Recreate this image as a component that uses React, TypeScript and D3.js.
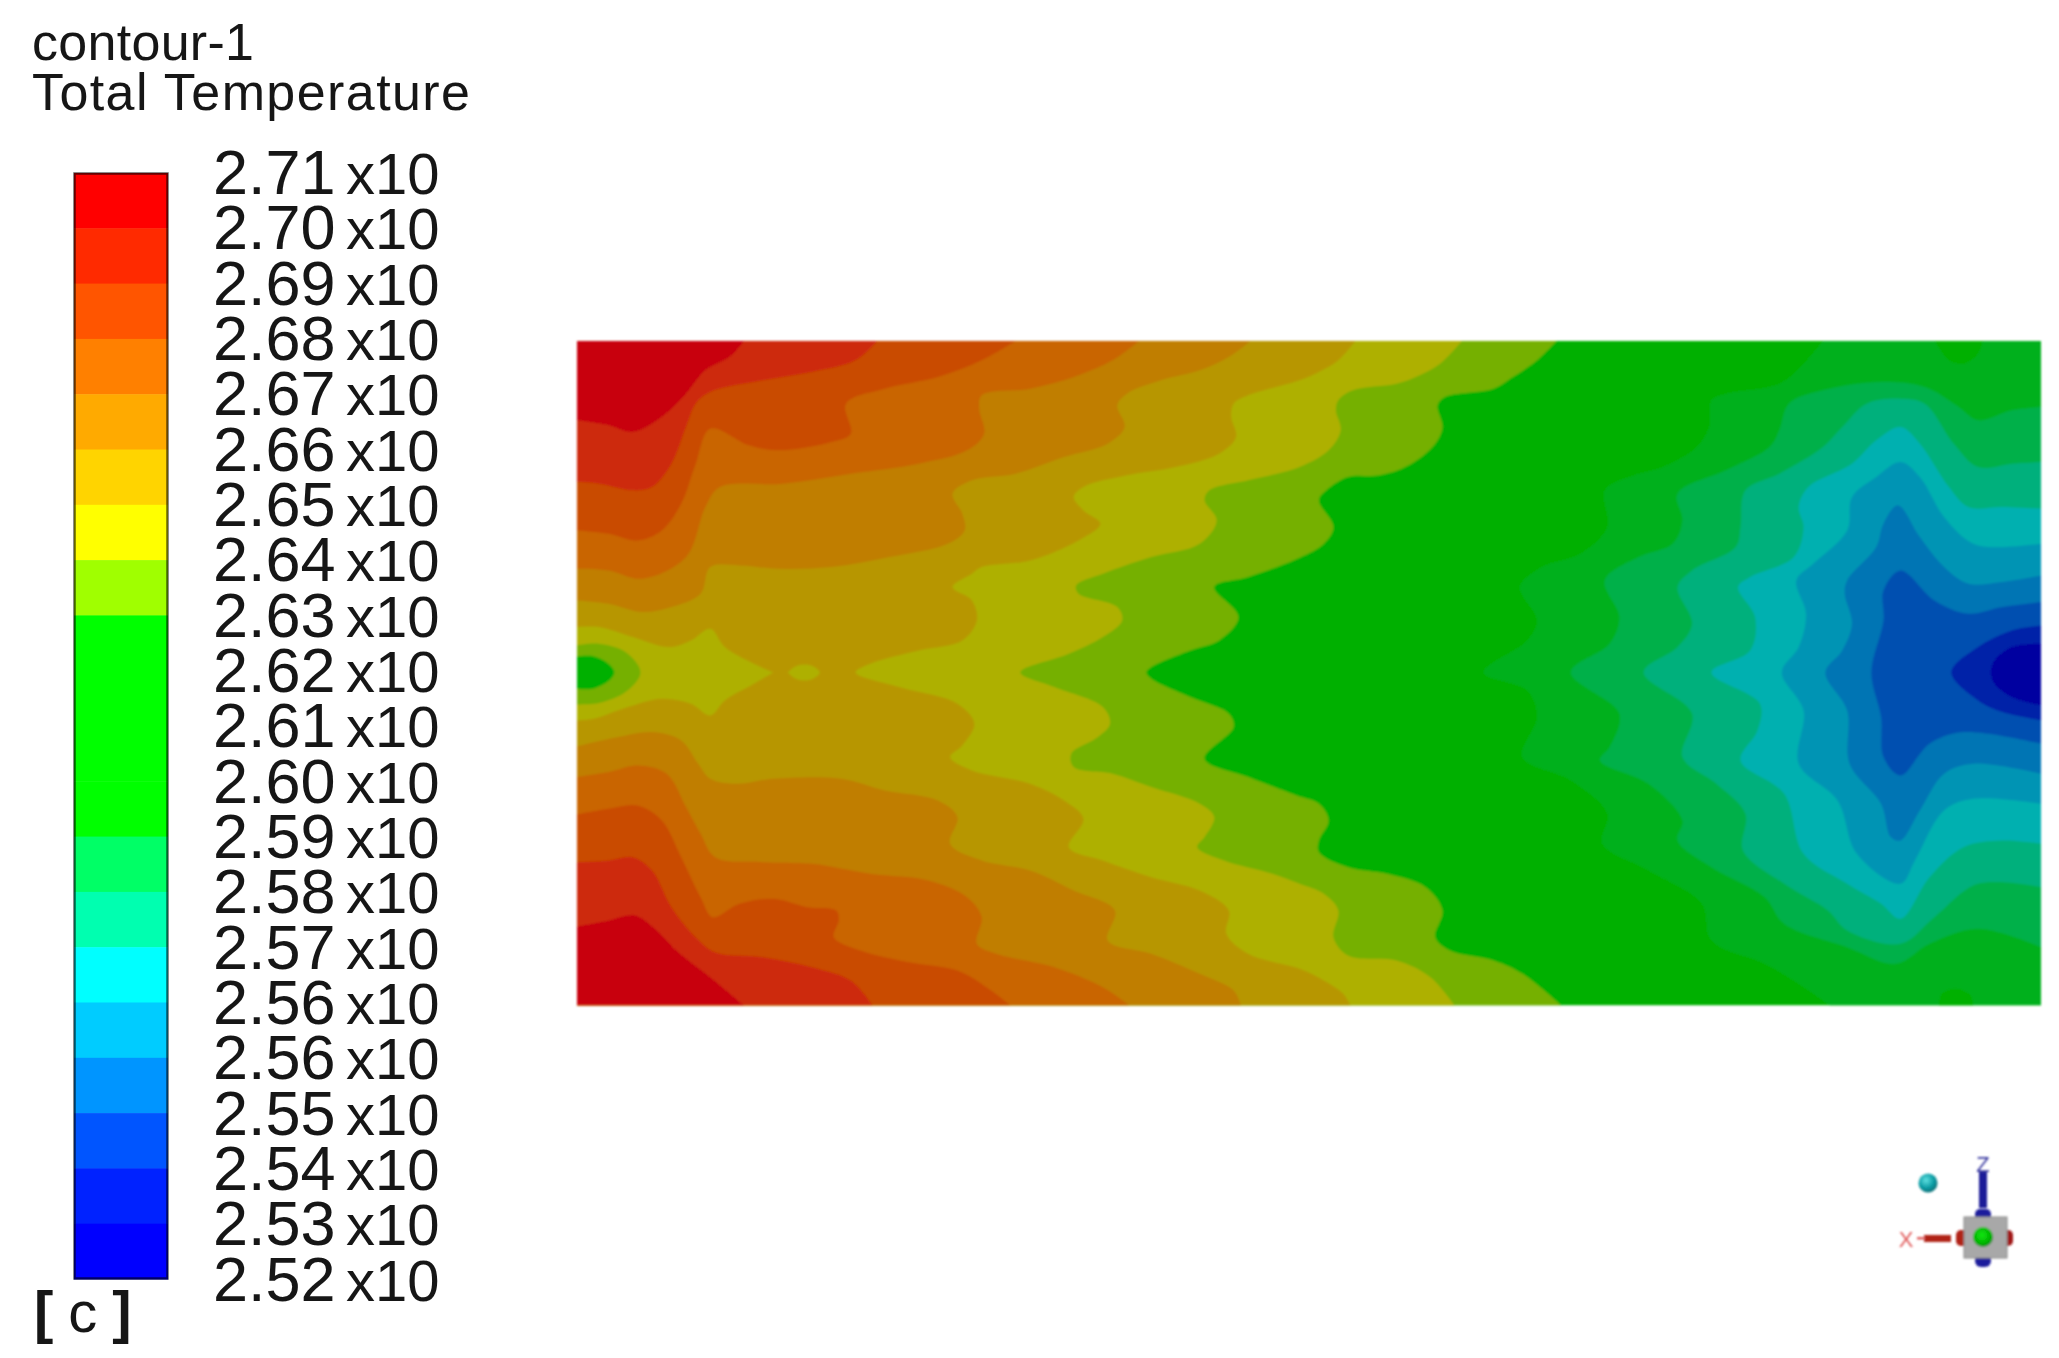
import React from "react";
import * as d3 from "d3";

type Pt = [number, number];
const pane = (dx: number, dy: number) => (pts: number[][]): Pt[] => pts.map(([x, y]) => [x + dx, y + dy] as Pt);
// contour points are read in a common plate grid, split in four quadrants of the plate
const tl = pane(0, 0);
const bl = pane(0, 1020);
const tr = pane(1506, 0);
const br = pane(1506, 1020);

const LEFT = 15, RIGHT = 3036, TOP = 32, BOTTOM = 2025, MID = 1026;
const corner = (x: number, y: number): Pt[] => [[x, y]];

const labelValues = ["2.71","2.70","2.69","2.68","2.67","2.66","2.65","2.64","2.63","2.62","2.61","2.60","2.59","2.58","2.57","2.56","2.56","2.55","2.54","2.53","2.52"];
const labelSuffix = "x10";
const barColors = ["#ff0000","#ff2b00","#ff5500","#ff8000","#ffaa00","#ffd400","#ffff00","#a0ff00","#00ff00","#00ff00","#00ff00","#00ff00","#00ff66","#00ffb0","#00ffff","#00ccff","#0095ff","#0055ff","#0020ff","#0000ff"];

// warm side boundaries
const greenEdge: Pt[] = [
  ...tr([[530,32],[490,90],[440,140],[400,175],[300,200],[285,225],[295,290],[280,340],[225,405],[165,435],[100,440],[55,480],[40,510],[70,590],[50,640]]),
  ...tl([[1506,682],[1400,740],[1330,770],[1380,860],[1340,930],[1280,960],[1200,1010],[1190,MID]]),
  ...bl([[1200,25],[1280,80],[1360,130],[1370,170],[1310,265],[1400,320],[1500,375]]),
  ...br([[40,400],[60,450],[40,510],[40,545],[100,590],[180,610],[260,650],[295,720],[280,800],[310,840],[400,870],[460,910],[540,1005]]),
];
const oliveEdge: Pt[] = [
  ...tr([[335,32],[290,100],[240,140],[200,160],[110,180],[80,210],[75,240],[85,300],[60,360]]),
  ...tl([[1506,410],[1400,450],[1320,480],[1310,510],[1335,570],[1300,640],[1200,680],[1100,730],[1045,765],[1050,790],[1130,830],[1140,870],[1100,920],[1030,970],[930,MID]]),
  ...bl([[1000,50],[1100,110],[1115,160],[1090,200],[1035,250],[1040,290],[1120,310],[1200,350],[1300,400],[1330,440],[1310,500],[1295,530],[1350,570],[1450,610]]),
  ...br([[0,640],[50,670],[80,720],[70,800],[100,855],[200,870],[270,920],[320,1005]]),
];
const yellowRight: Pt[] = [
  ...tr([[115,32],[80,90],[40,125],[0,150]]),
  ...tl([[1400,195],[1370,220],[1365,260],[1375,320],[1340,370],[1250,410],[1150,435],[1060,470],[1040,500],[1060,540],[1095,580],[1050,630],[950,690],[850,710],[830,730],[790,770],[830,810],[840,870],[810,930],[720,960],[620,1000],[590,MID]]),
  ...bl([[680,50],[800,100],[835,160],[810,225],[785,260],[830,300],[950,340],[1020,390],[1060,445],[1030,530],[1100,570],[1200,620],[1300,660],[1360,720],[1355,790],[1400,850]]),
  ...br([[0,895],[50,930],[90,970],[105,1005]]),
];
const yellowLeftLow: Pt[] = [...bl([[15,150],[50,145],[120,110],[190,85],[250,100],[290,135],[320,90],[380,40],[420,6]])];
const yellowLeftHigh: Pt[] = [...tl([[420,MID],[380,1000],[320,950],[290,895],[250,930],[205,950],[130,920],[60,890],[15,890]])];
const island: Pt[] = [[450,MID],[465,1008],[483,1002],[503,1008],[516,MID],[503,1044],[483,1050],[465,1044],[450,MID]];
const ring: Pt[] = [[15,945],[60,940],[115,965],[146,1026],[115,1085],[60,1118],[15,1122]];
const spot: Pt[] = [[15,978],[50,978],[80,1000],[92,1026],[80,1052],[50,1074],[15,1076]];

const ochreTop: Pt[] = tl([[1405,32],[1360,80],[1300,120],[1220,150],[1150,190],[1130,225],[1145,290],[1110,340],[1020,380],[920,430],[830,450],[790,490],[810,550],[815,600],[780,640],[660,680],[540,710],[430,715],[350,705],[290,710],[270,790],[210,830],[150,845],[80,820],[15,810]]);
const ochreLow: Pt[] = bl([[15,228],[100,200],[170,185],[230,210],[265,280],[290,325],[345,340],[420,325],[560,325],[650,360],[760,390],[800,440],[785,520],[850,570],[950,600],[1040,660],[1125,720],[1110,810],[1200,850],[1300,910],[1370,960],[1385,1005]]);
const orangeTop: Pt[] = tl([[1175,32],[1120,90],[1040,140],[950,175],[850,195],[845,235],[855,310],[820,360],[720,400],[580,430],[440,460],[310,470],[280,530],[240,680],[150,745],[80,720],[15,715]]);
const orangeLow: Pt[] = bl([[15,320],[80,305],[140,285],[200,310],[240,410],[270,490],[300,560],[400,575],[500,580],[620,610],[740,630],[820,680],[850,740],[840,820],[880,850],[1000,890],[1100,950],[1155,1005]]);
const burntTop: Pt[] = tl([[920,32],[850,90],[760,140],[650,175],[570,220],[580,310],[540,335],[430,360],[370,345],[290,295],[260,400],[230,520],[190,600],[140,630],[80,610],[15,600]]);
const burntLow: Pt[] = bl([[15,432],[80,415],[140,405],[190,450],[230,560],[270,680],[295,740],[350,700],[420,685],[490,710],[550,720],[555,750],[545,800],[600,840],[700,875],[800,900],[860,950],[910,1005]]);
const scarletTop: Pt[] = tl([[635,32],[590,90],[500,125],[400,150],[290,185],[260,220],[240,290],[210,400],[170,470],[130,480],[60,460],[15,455]]);
const scarletLow: Pt[] = bl([[15,575],[80,570],[130,560],[170,600],[210,710],[260,800],[300,845],[400,860],[500,890],[580,930],[625,1005]]);
const redTop: Pt[] = tl([[360,32],[330,80],[280,120],[240,190],[190,260],[130,305],[80,285],[15,270]]);
const redLow: Pt[] = bl([[15,768],[80,750],[135,735],[180,780],[220,840],[290,920],[360,1005]]);

// cool side boundaries
const coolA: Pt[] = [
  ...tr([[1080,32],[1040,100],[990,160],[880,190],[850,210],[845,290],[820,350],[750,410],[690,435],[630,480],[635,590],[580,670],[500,710],[455,770],[490,870],[470,930],[380,MID]]),
  ...br([[470,60],[490,140],[460,260],[560,330],[635,430],[625,520],[720,600],[830,700],[850,810],[960,880],[1040,950],[1095,1005]]),
];
const coolIslandTop: Pt[] = tr([[1310,30],[1340,90],[1370,100],[1400,70],[1410,30]]);
const coolIslandLow: Pt[] = br([[1320,1005],[1325,970],[1355,955],[1385,975],[1390,1005]]);
const coolB: Pt[] = [
  ...tr([[1530,230],[1470,240],[1400,270],[1360,230],[1290,170],[1200,155],[1080,180],[1010,220],[990,300],[970,350],[880,420],[780,490],[790,570],[770,640],[700,680],[630,750],[660,860],[640,940],[560,MID]]),
  ...br([[660,130],[640,230],[620,270],[720,340],[790,450],[780,510],[850,590],[960,680],[1000,760],[1130,830],[1230,880],[1300,820],[1400,775],[1530,830]]),
];
const coolC: Pt[] = [
  ...tr([[1530,395],[1470,400],[1400,410],[1350,340],[1290,220],[1240,205],[1170,220],[1120,290],[1080,350],[990,430],[920,480],[910,590],[900,650],[810,720],[780,770],[810,880],[780,950],[710,MID]]),
  ...br([[810,130],[790,260],[860,340],[920,430],[915,540],[1000,640],[1090,720],[1130,780],[1240,820],[1310,740],[1400,640],[1530,650]]),
];
const coolD: Pt[] = [
  ...tr([[1530,535],[1450,530],[1380,530],[1340,470],[1280,340],[1240,290],[1190,330],[1140,400],[1050,470],[1030,530],[1040,590],[1020,680],[930,740],[905,770],[940,860],[930,960],[850,MID]]),
  ...br([[950,100],[945,180],[910,270],[1000,370],[1040,550],[1130,640],[1200,700],[1240,745],[1300,620],[1370,530],[1450,510],[1530,520]]),
];
const coolE: Pt[] = [
  ...tr([[1530,640],[1450,650],[1390,640],[1330,560],[1280,440],[1240,395],[1190,440],[1140,500],[1130,600],[1060,700],[1025,750],[1045,850],[1030,950],[995,MID]]),
  ...br([[1040,120],[1030,280],[1110,390],[1150,550],[1240,640],[1270,570],[1330,420],[1390,385],[1530,400]]),
];
const coolF: Pt[] = [
  ...tr([[1530,735],[1450,755],[1380,760],[1330,710],[1280,620],[1235,525],[1205,580],[1190,650],[1130,750],[1125,790],[1140,880],[1120,960],[1085,MID]]),
  ...br([[1130,120],[1135,280],[1200,400],[1220,500],[1240,510],[1280,420],[1330,310],[1390,280],[1530,310]]),
];
const coolG: Pt[] = [
  ...tr([[1530,815],[1450,830],[1380,850],[1310,810],[1240,720],[1205,780],[1205,870],[1180,MID]]),
  ...br([[1200,140],[1205,260],[1240,315],[1300,220],[1370,185],[1530,220]]),
];
const coolH: Pt[] = [
  ...tr([[1530,885],[1470,900],[1400,950],[1345,MID]]),
  ...br([[1400,90],[1450,125],[1530,150]]),
];
const coolI: Pt[] = [
  ...tr([[1530,940],[1470,950],[1430,1000]]),
  ...br([[1430,30],[1470,80],[1530,105]]),
];

const tlc = corner(LEFT, TOP), blc = corner(LEFT, BOTTOM), trc = corner(RIGHT, TOP), brc = corner(RIGHT, BOTTOM);

const regions: { fill: string; segs: Pt[][] }[] = [
  { fill: "#00b000", segs: [tlc, trc, brc, blc] },
  { fill: "#74b000", segs: [greenEdge, blc, tlc] },
  { fill: "#aeb000", segs: [oliveEdge, blc, tlc] },
  { fill: "#74b000", segs: [ring] },
  { fill: "#00b000", segs: [spot] },
  { fill: "#b79600", segs: [yellowRight, blc, yellowLeftLow, yellowLeftHigh, tlc] },
  { fill: "#aeb000", segs: [island] },
  { fill: "#c07e00", segs: [ochreTop, tlc] },
  { fill: "#c07e00", segs: [ochreLow, blc] },
  { fill: "#c96500", segs: [orangeTop, tlc] },
  { fill: "#c96500", segs: [orangeLow, blc] },
  { fill: "#c94c00", segs: [burntTop, tlc] },
  { fill: "#c94c00", segs: [burntLow, blc] },
  { fill: "#cd2a08", segs: [scarletTop, tlc] },
  { fill: "#cd2a08", segs: [scarletLow, blc] },
  { fill: "#c8060c", segs: [redTop, tlc] },
  { fill: "#c8060c", segs: [redLow, blc] },
  { fill: "#00b01e", segs: [coolA, brc, trc] },
  { fill: "#00b000", segs: [coolIslandTop] },
  { fill: "#00b000", segs: [coolIslandLow] },
  { fill: "#00b048", segs: [coolB] },
  { fill: "#00b07c", segs: [coolC] },
  { fill: "#00b0b0", segs: [coolD] },
  { fill: "#0094b4", segs: [coolE] },
  { fill: "#0074b4", segs: [coolF] },
  { fill: "#0050b0", segs: [coolG] },
  { fill: "#0020a8", segs: [coolH] },
  { fill: "#0000a0", segs: [coolI] },
];

const x = d3.scaleLinear().domain([LEFT, RIGHT]).range([577, 2041]);
const y = d3.scaleLinear().domain([TOP, BOTTOM]).range([341, 1005.5]);
const curve = d3.line<Pt>().x(d => x(d[0])).y(d => y(d[1])).curve(d3.curveCatmullRom.alpha(0.5));
const regionPath = (segs: Pt[][]) => segs.map((s, i) => {
  // a one-point segment is a plate corner: straight join, no curve
  const p = s.length === 1 ? `M${x(s[0][0])},${y(s[0][1])}` : (curve(s) as string);
  return i === 0 ? p : p.replace(/^M/, "L");
}).join("") + "Z";

const barBands = d3.scaleBand<number>().domain(d3.range(barColors.length)).range([173, 1279]);
const labelY = d3.scaleLinear().domain([0, labelValues.length - 1]).range([195, 1301.7]);

const FONT = "'Liberation Sans', Arial, sans-serif";

export default function App() {
  return (
    <svg width={2059} height={1358} style={{ position: "absolute", left: 0, top: 0, display: "block", background: "#fff" }}>
      <defs>
        <filter id="soft" x="-2%" y="-2%" width="104%" height="104%"><feGaussianBlur stdDeviation="1.3" /></filter>
        <filter id="softT" x="-5%" y="-5%" width="110%" height="110%"><feGaussianBlur stdDeviation="0.55" /></filter>
        <filter id="softB" x="-30%" y="-30%" width="160%" height="160%"><feGaussianBlur stdDeviation="1" /></filter>
        <clipPath id="plate"><rect x={x(LEFT)} y={y(TOP)} width={x(RIGHT) - x(LEFT)} height={y(BOTTOM) - y(TOP)} /></clipPath>
        <radialGradient id="teal" cx="40%" cy="35%" r="70%"><stop offset="0%" stopColor="#5fe0e0" /><stop offset="55%" stopColor="#10a0a8" /><stop offset="100%" stopColor="#0a6a70" /></radialGradient>
        <radialGradient id="grn" cx="45%" cy="40%" r="65%"><stop offset="0%" stopColor="#10e810" /><stop offset="70%" stopColor="#00b000" /><stop offset="100%" stopColor="#107020" /></radialGradient>
      </defs>

      <g filter="url(#soft)">
        <g clipPath="url(#plate)">
          {regions.map((r, i) => <path key={i} d={regionPath(r.segs)} fill={r.fill} />)}
        </g>
      </g>

      <g filter="url(#softT)">
        <g>
          {barColors.map((c, i) => (
            <rect key={i} x={74} y={barBands(i)} width={94} height={(barBands.bandwidth() as number) + 0.5} fill={c} />
          ))}
          <rect x={74.5} y={173.5} width={93} height={1105} fill="none" stroke="#000" strokeOpacity={0.6} strokeWidth={2.5} />
        </g>
        <g fontFamily={FONT} fill="#151515">
          <text x={32} y={60} fontSize={52} textLength={222} lengthAdjust="spacing">contour-1</text>
          <text x={32} y={110} fontSize={52} textLength={438} lengthAdjust="spacing">Total Temperature</text>
          {labelValues.map((v, i) => (
            <g key={i}>
              <text x={213} y={labelY(i) - 1} fontSize={63}>{v}</text>
              <text x={346} y={labelY(i) - 1} fontSize={58}>{labelSuffix}</text>
            </g>
          ))}
          <text x={34} y={1332} fontSize={58}>
            <tspan fontWeight="bold">[</tspan>
            <tspan dx={15}>c</tspan>
            <tspan dx={15} fontWeight="bold">]</tspan>
          </text>
        </g>
      </g>

      <g filter="url(#softB)">
        <circle cx={1928} cy={1183} r={9.5} fill="url(#teal)" />
        <rect x={1979} y={1172} width={8} height={36} fill="#1a1a98" />
        <text x={1983} y={1172} fontFamily={FONT} fontSize={22} textAnchor="middle" fill="#3a3aa0">Z</text>
        <rect x={1975} y={1209} width={16} height={12} rx={5} fill="#1c1c9c" />
        <rect x={1975} y={1254} width={16} height={13} rx={6} fill="#1c1c9c" />
        <rect x={1956} y={1230} width={12} height={16} rx={5} fill="#b02018" />
        <rect x={2003} y={1230} width={10} height={16} rx={5} fill="#a01818" />
        <rect x={1964} y={1217} width={43} height={41} fill="#a8a8a8" stroke="#888" strokeWidth={1} />
        <circle cx={1983} cy={1237} r={10} fill="url(#grn)" />
        <rect x={1924} y={1235} width={27} height={7} fill="#b02018" />
        <rect x={1917} y={1237} width={8} height={2.5} fill="#e06060" />
        <text x={1906} y={1247} fontFamily={FONT} fontSize={22} textAnchor="middle" fill="#e05a5a">X</text>
      </g>
    </svg>
  );
}
